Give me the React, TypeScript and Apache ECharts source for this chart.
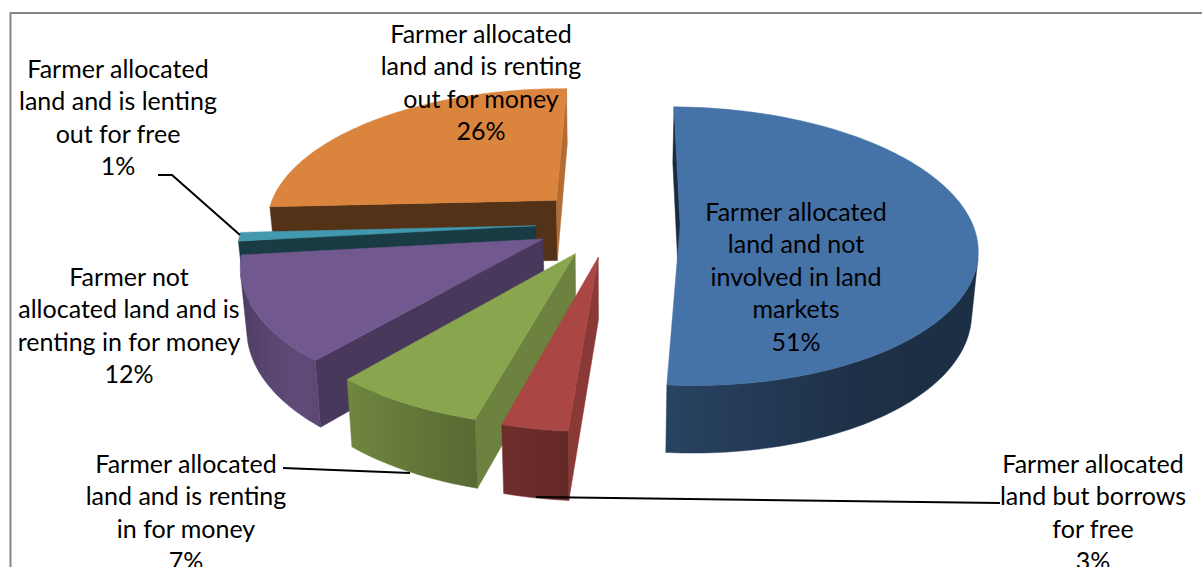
import React, { useEffect, useRef } from "react";
import * as echarts from "echarts";

// Shares of farmers, in the clockwise order of the slices
const sliceNames = [
  "Farmer allocated\nland and not\ninvolved in land\nmarkets",
  "Farmer allocated\nland but borrows\nfor free",
  "Farmer allocated\nland and is renting\nin for money",
  "Farmer not\nallocated land and is\nrenting in for money",
  "Farmer allocated\nland and is lenting\nout for free",
  "Farmer allocated\nland and is renting\nout for money",
];
const sliceValues = [51, 3, 7, 12, 1, 26];
const sliceColors = ["#4572A7", "#AA4643", "#89A54E", "#71588F", "#4198AF", "#DB843D"];
// Back-to-front painting order
const paintOrder = [5, 4, 3, 0, 2, 1];
// Small sideways offset of each slice, in pixels
const sliceNudge = [0, 3, 2, 0, 0, -1];
// Label anchors: centre x and y of the first line
const labelX = [796, 1093, 186, 129, 118, 481];
const labelY = [212, 464, 464, 277, 69, 34];
const LINE_HEIGHT = 32.4;

// Projection of the tilted disc
const CX = 608, CY = 223, RX = 292, RY = 135.5, PERSP = 0.155, EXPLODE = 0.247, ROTATE = 0.8, DEPTH = 61;
// Brightness of the rim by angle around the disc
const rimAngles = [90, 150, 180, 200, 225, 265, 280];
const rimShades = [0.4, 0.42, 0.56, 0.68, 0.85, 0.6, 0.6];

const rad = (d: number) => (d * Math.PI) / 180;

function project(X: number, Y: number, z: number): [number, number] {
  const s = 1 / (1 + PERSP * Y);
  let x = CX + RX * X * s;
  const y = CY - RY * Y * s + z * DEPTH * Math.pow(s, 0.6);
  x = CX + (x - CX) * (1 - 0.018 * z);
  return [x, y];
}

function shadeValue(hex: string, f: number) {
  const n = parseInt(hex.slice(1), 16);
  const c = [(n >> 16) & 255, (n >> 8) & 255, n & 255].map((v) => Math.round(v * f));
  return `rgb(${c[0]},${c[1]},${c[2]})`;
}

function rimShade(a: number) {
  for (let i = 1; i < rimAngles.length; i++) {
    if (a <= rimAngles[i]) {
      const t = (a - rimAngles[i - 1]) / (rimAngles[i] - rimAngles[i - 1]);
      return rimShades[i - 1] + t * (rimShades[i] - rimShades[i - 1]);
    }
  }
  return rimShades[rimShades.length - 1];
}

function signedArea(p: [number, number][]) {
  let a = 0;
  for (let i = 0; i < p.length; i++) {
    const q = p[(i + 1) % p.length];
    a += p[i][0] * q[1] - q[0] * p[i][1];
  }
  return a;
}

const total = sliceValues.reduce((a, b) => a + b, 0);

function renderSlice(_params: any, api: any) {
  const idx = api.value(0);
  const val = api.value(1);
  let before = 0;
  for (let i = 0; i < idx; i++) before += sliceValues[i];
  const a0 = ROTATE + (before / total) * 360;
  const a1 = a0 + (val / total) * 360;
  const mid = (a0 + a1) / 2;
  const ox = EXPLODE * Math.sin(rad(mid));
  const oy = EXPLODE * Math.cos(rad(mid));
  const color = sliceColors[idx];
  const nudge = sliceNudge[idx];
  const place = (X: number, Y: number, z: number): [number, number] => {
    const p = project(X, Y, z);
    return [p[0] + nudge, p[1]];
  };
  const rim = (a: number, z: number) => place(ox + Math.sin(rad(a)), oy + Math.cos(rad(a)), z);
  const apex = (z: number) => place(ox, oy, z);
  const base = paintOrder.indexOf(idx) * 10;
  const children: any[] = [];

  const face = (points: [number, number][], fill: any, z2: number) =>
    children.push({
      type: "polygon",
      z2,
      shape: { points },
      style: { fill, stroke: fill, lineWidth: 0.5 },
    });

  // Cut faces, drawn only when they turn towards the viewer
  const wallStart: [number, number][] = [apex(0), rim(a0, 0), rim(a0, 1), apex(1)];
  if (signedArea(wallStart) < 0) {
    const nx = Math.max(0, -Math.cos(rad(a0)));
    face(wallStart, shadeValue(color, 0.38 + 0.44 * nx * nx), base + 1);
  }
  const wallEnd: [number, number][] = [apex(0), rim(a1, 0), rim(a1, 1), apex(1)];
  if (signedArea(wallEnd) > 0) {
    const nx = Math.max(0, Math.cos(rad(a1)));
    face(wallEnd, shadeValue(color, 0.38 + 0.44 * nx * nx), base + 1);
  }

  // Rim: the viewer-facing stretch of the arc, shaded with a horizontal gradient
  const seen: number[] = [];
  for (let a = a0; a < a1; a += 1) {
    const b = Math.min(a + 1, a1);
    if (signedArea([rim(a, 0), rim(b, 0), rim(b, 1), rim(a, 1)]) < 0) {
      if (!seen.length) seen.push(a);
      seen.push(b);
    }
  }
  if (seen.length > 1) {
    const upper = seen.map((a) => rim(a, 0));
    const lower = seen.map((a) => rim(a, 1)).reverse();
    const xs = [...upper, ...lower].map((p) => p[0]);
    const xMin = Math.min(...xs);
    const xMax = Math.max(...xs);
    const colorStops = seen
      .map((a) => ({
        offset: Math.min(1, Math.max(0, (rim(a, 0)[0] - xMin) / (xMax - xMin || 1))),
        color: shadeValue(color, rimShade(a)),
      }))
      .sort((p, q) => p.offset - q.offset);
    face(
      [...upper, ...lower],
      { type: "linear", x: xMin, y: 0, x2: xMax, y2: 0, global: true, colorStops },
      base + 2
    );
  }

  // Top of the slice
  const top: [number, number][] = [apex(0)];
  for (let a = a0; a < a1; a += 1) top.push(rim(a, 0));
  top.push(rim(a1, 0));
  face(top, color, base + 3);

  return { type: "group", children };
}

const labels = sliceNames.map((name, i) => ({
  type: "text",
  z: 10,
  silent: true,
  style: {
    text: `${name}\n${sliceValues[i]}%`,
    x: labelX[i],
    y: labelY[i] - 1 - LINE_HEIGHT / 2,
    align: "center",
    verticalAlign: "top",
    fontFamily: "Lato",
    fontSize: 25,
    lineHeight: LINE_HEIGHT,
    fill: "#000",
  },
}));

const line = (points: number[][], stroke: string, lineWidth: number) => ({
  type: "polyline",
  z: 9,
  silent: true,
  shape: { points },
  style: { stroke, lineWidth, fill: "none" },
});

export default function App() {
  const ref = useRef<HTMLDivElement>(null);
  useEffect(() => {
    const chart = echarts.init(ref.current!, undefined, { renderer: "svg" });
    chart.setOption({
      animation: false,
      backgroundColor: "#fff",
      series: [
        {
          type: "custom",
          coordinateSystem: "none",
          clip: false,
          silent: true,
          renderItem: renderSlice,
          data: paintOrder.map((i) => [i, sliceValues[i]]),
        },
      ],
      graphic: [
        line([[10.5, 567], [10.5, 13], [1202, 13]], "#868686", 2),
        line([[158, 175], [172, 175], [240, 235]], "#000", 2),
        line([[283, 468], [410, 473]], "#000", 2),
        line([[536, 497], [1000, 503]], "#000", 2),
        ...labels,
      ],
    });
    return () => chart.dispose();
  }, []);
  return <div ref={ref} style={{ position: "fixed", left: 0, top: 0, width: 1202, height: 567 }} />;
}
